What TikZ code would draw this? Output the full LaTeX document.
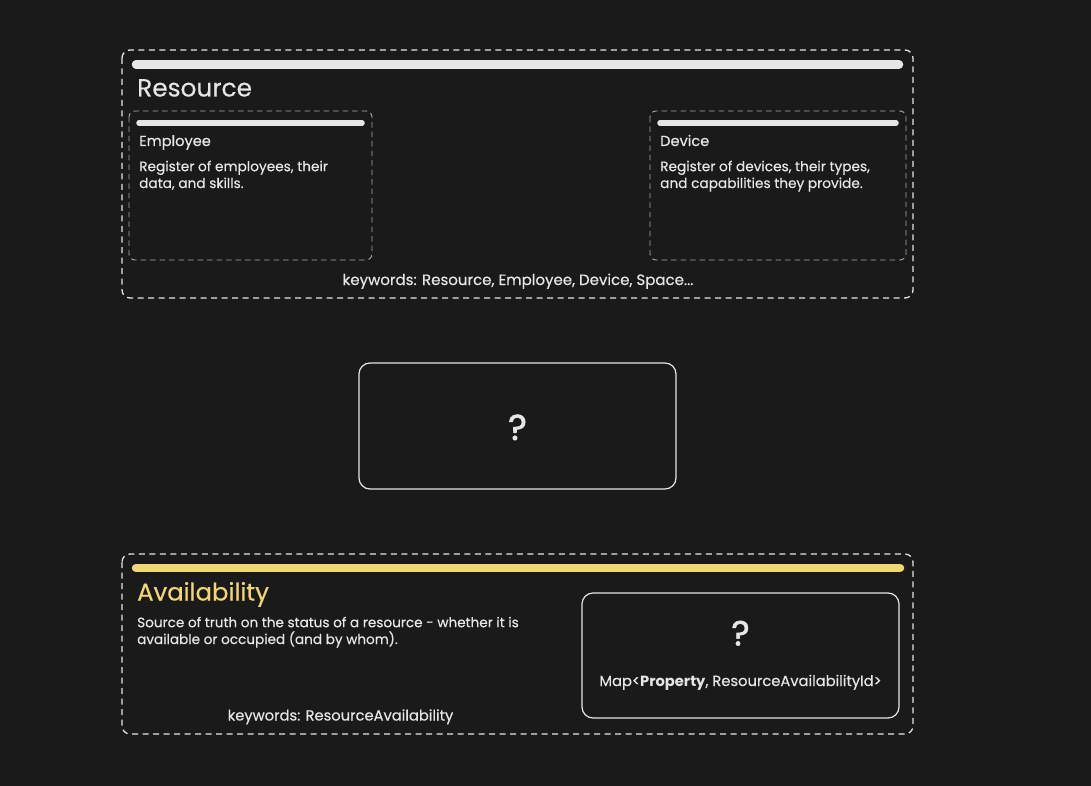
\documentclass[tikz,border=0pt]{standalone}
\usepackage{fontspec}
\setmainfont{Poppins}[UprightFeatures={FakeBold=0.35}]
\newfontfamily\qfont{Poppins}[FakeBold=1.6]
\definecolor{bg}{HTML}{1A1A1A}
\definecolor{fg}{HTML}{E6E6E6}
\definecolor{dashgray}{HTML}{A8A8A8}
\definecolor{gold}{HTML}{F2D675}
\tikzset{
  outerbox/.style={draw=fg, line width=1.3pt, dash pattern=on 6pt off 4.5pt, rounded corners=8pt},
  innerbox/.style={draw=dashgray, line width=0.9pt, dash pattern=on 5.5pt off 4pt, rounded corners=6pt},
  solidbox/.style={draw=fg, line width=1.2pt, rounded corners=11pt},
  bigbar/.style={line width=8.5pt, line cap=round},
  smallbar/.style={draw=fg, line width=5.5pt, line cap=round},
  txt/.style={text=fg, inner sep=0pt, anchor=base west},
  ctxt/.style={text=fg, inner sep=0pt, anchor=base},
}
\begin{document}
\begin{tikzpicture}[x=1pt,y=-1pt]
\fill[bg] (0,0) rectangle (1091,786);
\useasboundingbox (0,0) rectangle (1091,786);
% Resource context
\draw[outerbox] (122,50) rectangle (913,298);
\coordinate (rb1) at (136,64.5); \coordinate (rb2) at (899,64.5);
\draw[bigbar, draw=fg] (rb1) -- (rb2);
\node[txt, font=\fontsize{24.8}{28}\selectfont] (restitle) at (137,96.5) {Resource};
% Employee
\draw[innerbox] (129,111) rectangle (372,260);
\coordinate (eb1) at (139,123); \coordinate (eb2) at (362,123);
\draw[smallbar] (eb1) -- (eb2);
\node[txt, font=\fontsize{14.6}{17}\selectfont] (emptitle) at (139,146) {Employee};
\node[txt, font=\fontsize{13.7}{16.8}\selectfont, align=left] (empdesc) at (139,188) {Register of employees, their\\data, and skills.};
% Device
\draw[innerbox] (650,111) rectangle (906,260);
\coordinate (db1) at (660,123); \coordinate (db2) at (896,123);
\draw[smallbar] (db1) -- (db2);
\node[txt, font=\fontsize{14.6}{17}\selectfont] (devtitle) at (660,146) {Device};
\node[txt, font=\fontsize{13.7}{16.8}\selectfont, align=left] (devdesc) at (660,188) {Register of devices, their types,\\and capabilities they provide.};
\node[ctxt, font=\fontsize{15}{17}\selectfont] (reskw) at (518,285) {keywords: Resource, Employee, Device, Space...};
% middle box
\draw[solidbox] (359,363) rectangle (676,489);
\node[ctxt, font=\qfont\fontsize{36}{40}\selectfont] (q1) at (517.5,440) {?};
% Availability context
\draw[outerbox] (122,554) rectangle (913,734);
\coordinate (ab1) at (136,568); \coordinate (ab2) at (900,568);
\draw[bigbar, draw=gold] (ab1) -- (ab2);
\node[txt, text=gold, font=\fontsize{24.3}{30}\selectfont] (avtitle) at (137,600.5) {Availability};
\node[txt, font=\fontsize{13.6}{16.8}\selectfont, align=left] (avdesc) at (137,644) {Source of truth on the status of a resource - whether it is\\available or occupied (and by whom).};
\node[ctxt, font=\fontsize{14.7}{17}\selectfont] (avkw) at (340.5,720.5) {keywords: ResourceAvailability};
\draw[solidbox] (582,593) rectangle (899,718);
\node[ctxt, font=\qfont\fontsize{35}{40}\selectfont] (q2) at (740.5,645.5) {?};
\node[ctxt, font=\fontsize{14.7}{17}\selectfont] (map) at (740.5,686) {Map<\textbf{Property}, ResourceAvailabilityId>};
\end{tikzpicture}
\end{document}
